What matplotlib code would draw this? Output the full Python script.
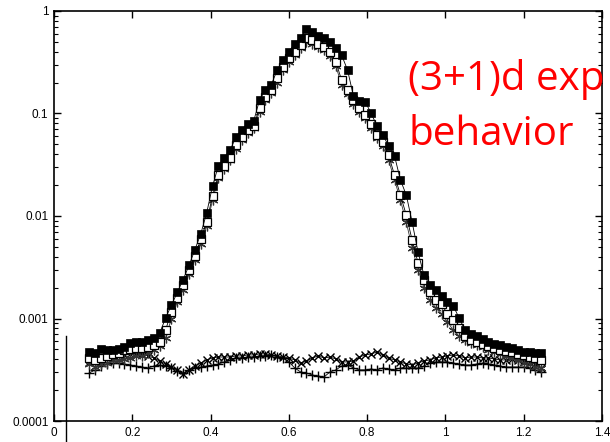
import numpy as np
import matplotlib
matplotlib.use("Agg")
import matplotlib.pyplot as plt
from matplotlib.lines import Line2D
from matplotlib.ticker import FixedLocator, LogLocator, NullFormatter

# x grid of the samples
x = np.round(0.09 + 0.015 * np.arange(78), 3)

# filled squares
filled = [4.7e-4, 4.6e-4, 5.0e-4, 4.9e-4, 4.9e-4, 5.0e-4, 5.3e-4, 5.8e-4, 5.9e-4, 5.9e-4,
          6.2e-4, 6.5e-4, 7.2e-4, 1.01e-3, 1.35e-3, 1.8e-3, 2.4e-3, 3.3e-3, 4.7e-3, 6.7e-3,
          1.07e-2, 1.96e-2, 3.1e-2, 3.7e-2, 4.4e-2, 5.9e-2, 6.9e-2, 7.9e-2, 8.4e-2, 0.135,
          0.17, 0.19, 0.265, 0.33, 0.40, 0.48, 0.55, 0.67, 0.62, 0.57,
          0.55, 0.50, 0.44, 0.37, 0.265, 0.148, 0.132, 0.13, 0.101, 0.0755,
          0.062, 0.048, 0.0385, 0.0225, 0.016, 0.0087, 0.00445, 0.00266, 0.00212, 0.0019,
          0.00166, 0.00145, 0.00133, 0.00101, 7.7e-4, 7.1e-4, 6.7e-4, 6.3e-4, 5.9e-4, 5.6e-4,
          5.5e-4, 5.3e-4, 5.15e-4, 4.9e-4, 4.7e-4, 4.7e-4, 4.6e-4, 4.6e-4]

# open squares
opensq = [4.1e-4, 3.9e-4, 4.1e-4, 4.3e-4, 4.5e-4, 4.6e-4, 4.9e-4, 5.0e-4, 5.1e-4, 5.1e-4,
          5.3e-4, 5.5e-4, 5.9e-4, 7.7e-4, 1.17e-3, 1.6e-3, 2.1e-3, 3.0e-3, 4.1e-3, 5.9e-3,
          8.7e-3, 1.57e-2, 2.5e-2, 3.1e-2, 3.7e-2, 4.9e-2, 5.9e-2, 6.9e-2, 7.5e-2, 0.113,
          0.145, 0.17, 0.22, 0.285, 0.35, 0.40, 0.47, 0.55, 0.52, 0.48,
          0.45, 0.40, 0.32, 0.21, 0.17, 0.135, 0.113, 0.097, 0.079, 0.062,
          0.053, 0.039, 0.025, 0.016, 0.0102, 0.0058, 0.0035, 0.0024, 0.0018, 0.0015,
          0.0014, 0.0011, 9.6e-4, 8.0e-4, 6.7e-4, 6.2e-4, 5.9e-4, 5.6e-4, 5.4e-4, 5.1e-4,
          4.9e-4, 4.8e-4, 4.7e-4, 4.5e-4, 4.4e-4, 4.2e-4, 4.1e-4, 3.9e-4]

# asterisks
stars = [3.6e-4, 3.4e-4, 3.6e-4, 3.7e-4, 3.9e-4, 3.9e-4, 4.0e-4, 4.1e-4, 4.3e-4, 4.3e-4,
         4.6e-4, 4.9e-4, 5.4e-4, 6.5e-4, 1.0e-3, 1.45e-3, 1.9e-3, 2.7e-3, 3.7e-3, 5.3e-3,
         7.9e-3, 1.43e-2, 2.35e-2, 2.9e-2, 3.5e-2, 4.5e-2, 5.5e-2, 6.5e-2, 7.2e-2, 0.104,
         0.135, 0.16, 0.20, 0.265, 0.32, 0.37, 0.44, 0.50, 0.48, 0.45,
         0.42, 0.36, 0.29, 0.19, 0.155, 0.124, 0.104, 0.09, 0.072, 0.058,
         0.048, 0.035, 0.0225, 0.0143, 0.0087, 0.0049, 0.003, 0.002, 0.0015, 0.00128,
         0.0011, 9.3e-4, 7.7e-4, 6.7e-4, 6.2e-4, 5.8e-4, 5.5e-4, 5.3e-4, 4.9e-4, 4.7e-4,
         4.5e-4, 4.3e-4, 4.1e-4, 3.9e-4, 3.7e-4, 3.6e-4, 3.4e-4, 3.3e-4]

# crosses (flat)
crosses = [3.77e-4, 3.94e-4, 4.12e-4, 4.21e-4, 4.31e-4, 4.41e-4, 4.41e-4, 4.51e-4, 4.61e-4, 4.51e-4,
           4.31e-4, 4.12e-4, 3.85e-4, 3.60e-4, 3.36e-4, 3.15e-4, 2.87e-4, 3.15e-4, 3.44e-4, 3.68e-4,
           3.94e-4, 4.12e-4, 4.21e-4, 4.21e-4, 4.21e-4, 4.31e-4, 4.31e-4, 4.41e-4, 4.41e-4, 4.51e-4,
           4.51e-4, 4.41e-4, 4.31e-4, 4.21e-4, 4.12e-4, 3.94e-4, 3.68e-4, 3.85e-4, 4.12e-4, 4.31e-4,
           4.12e-4, 4.21e-4, 4.03e-4, 3.77e-4, 3.77e-4, 3.85e-4, 4.21e-4, 4.41e-4, 4.51e-4, 4.71e-4,
           4.41e-4, 4.12e-4, 3.94e-4, 3.77e-4, 3.60e-4, 3.52e-4, 3.68e-4, 3.85e-4, 3.94e-4, 4.12e-4,
           4.21e-4, 4.31e-4, 4.41e-4, 4.31e-4, 4.12e-4, 4.21e-4, 4.21e-4, 4.12e-4, 4.12e-4, 4.03e-4,
           3.94e-4, 3.94e-4, 4.03e-4, 3.94e-4, 3.85e-4, 3.77e-4, 3.60e-4, 3.29e-4]

# pluses (flat)
pluses = [2.94e-4, 3.15e-4, 3.44e-4, 3.60e-4, 3.68e-4, 3.68e-4, 3.60e-4, 3.52e-4, 3.44e-4, 3.36e-4,
          3.29e-4, 3.44e-4, 3.52e-4, 3.44e-4, 3.29e-4, 3.08e-4, 2.94e-4, 3.15e-4, 3.29e-4, 3.36e-4,
          3.44e-4, 3.52e-4, 3.60e-4, 3.77e-4, 3.94e-4, 4.12e-4, 4.12e-4, 4.21e-4, 4.21e-4, 4.31e-4,
          4.31e-4, 4.41e-4, 4.21e-4, 4.12e-4, 3.77e-4, 3.29e-4, 3.01e-4, 2.94e-4, 2.81e-4, 2.75e-4,
          2.69e-4, 3.01e-4, 3.15e-4, 3.44e-4, 3.52e-4, 3.29e-4, 3.15e-4, 3.15e-4, 3.22e-4, 3.15e-4,
          3.29e-4, 3.22e-4, 3.15e-4, 3.29e-4, 3.29e-4, 3.29e-4, 3.29e-4, 3.44e-4, 3.68e-4, 3.77e-4,
          3.77e-4, 3.77e-4, 3.68e-4, 3.60e-4, 3.52e-4, 3.52e-4, 3.60e-4, 3.68e-4, 3.60e-4, 3.52e-4,
          3.44e-4, 3.36e-4, 3.36e-4, 3.36e-4, 3.36e-4, 3.29e-4, 3.15e-4, 3.01e-4]

xticks = [0, 0.2, 0.4, 0.6, 0.8, 1, 1.2, 1.4]
xticklabels = ["0", "0.2", "0.4", "0.6", "0.8", "1", "1.2", "1.4"]
yticks = [1e-4, 1e-3, 1e-2, 1e-1, 1]
yticklabels = ["0.0001", "0.001", "0.01", "0.1", "1"]

plt.rcParams['font.family'] = ['Liberation Sans', 'DejaVu Sans']

fig = plt.figure(figsize=(6.1, 4.42), dpi=100)
ax = fig.add_axes([54/610, 21/442, 548/610, 410/442])

lw = 0.6
ax.plot(x, pluses, '-', color='black', lw=lw, marker='+', ms=7, mew=1.0)
ax.plot(x, crosses, '-', color='black', lw=lw, marker='x', ms=6, mew=1.0)
ax.plot(x, stars, '-', color='#333333', lw=lw, marker=(6, 2, 0), ms=7, mew=0.9)
ax.plot(x, opensq, '-', color='black', lw=lw, marker='s', ms=6, mfc='white', mew=0.9)
ax.plot(x, filled, '-', color='black', lw=lw, marker='s', ms=6, mfc='black', mew=0.5)

ax.set_yscale('log')
ax.set_xlim(0, 1.4)
ax.set_ylim(1e-4, 1)
ax.xaxis.set_major_locator(FixedLocator(xticks))
ax.set_xticklabels(xticklabels)
ax.yaxis.set_major_locator(FixedLocator(yticks))
ax.set_yticklabels(yticklabels)
ax.yaxis.set_minor_locator(LogLocator(base=10, subs=np.arange(2, 10)))
ax.yaxis.set_minor_formatter(NullFormatter())

ax.tick_params(which='both', direction='in', top=True, right=True, labelsize=8.5, pad=4)
ax.tick_params(which='major', length=5, width=1)
ax.tick_params(which='minor', length=3, width=0.8)
for s in ax.spines.values():
    s.set_linewidth(1.2)

# stray vertical line below the plot origin
fig.add_artist(Line2D([66/610, 66/610], [0, 106/442], color='black', lw=1))

fig.text(408/610, 1 - 90/442, "(3+1)d exp", color='red', fontsize=29,
         family=['Open Sans', 'DejaVu Sans'], va='baseline', ha='left')
fig.text(408/610, 1 - 145/442, "behavior", color='red', fontsize=29,
         family=['Open Sans', 'DejaVu Sans'], va='baseline', ha='left')

fig.savefig("out.png", dpi=100)
